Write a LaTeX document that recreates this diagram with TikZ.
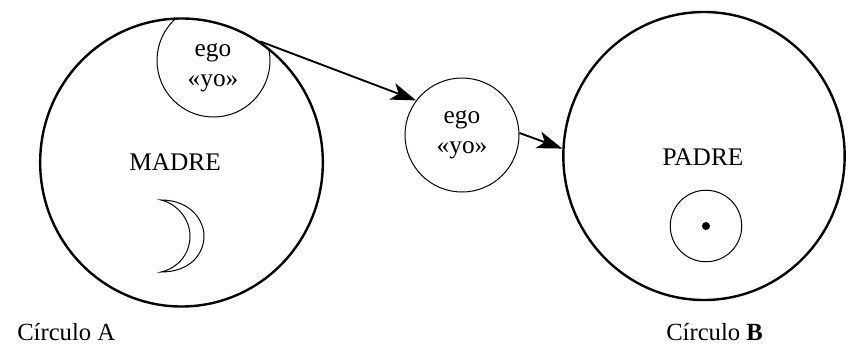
\documentclass[tikz,border=0pt]{standalone}
\usepackage{fontspec}
\setmainfont{Liberation Serif}
\usetikzlibrary{shapes.geometric,arrows.meta}
\tikzset{
  bigcirc/.style={ellipse,draw=black,line width=1.8pt,inner sep=0pt},
  thincirc/.style={circle,draw=black,line width=0.75pt,inner sep=0pt,minimum size=#1*0.75pt},
  lab/.style={font=\fontsize{19pt}{22.5pt}\selectfont,align=center,inner sep=0pt,text=black},
  captext/.style={font=\fontsize{18.5pt}{22pt}\selectfont,inner sep=0pt,anchor=base west,text=black},
  conn/.style={draw=black,line width=1.4pt,-{Stealth[length=19pt,width=13pt,inset=5pt]}}
}
\begin{document}
\begin{tikzpicture}[x=0.75pt,y=-0.75pt]
\useasboundingbox[fill=white] (0,0) rectangle (861,347);
% outer circles
\node[bigcirc,minimum width=212pt,minimum height=216pt] (A) at (181.5,162.5) {};
\node[bigcirc,minimum width=211pt,minimum height=216pt] (B) at (704,156) {};
% ego inside A, clipped by A
\begin{scope}
\clip (181.5,162.5) ellipse [x radius=141.7,y radius=144];
\node[thincirc=113] (egoA) at (213.5,60.5) {};
\end{scope}
\node[lab] (egoAt) at (213,68) {ego\\«yo»};
% free ego
\node[thincirc=114,lab] (egoB) at (462,135) {ego\\«yo»};
% labels
\node[lab] (madre) at (175,162) {MADRE};
\node[lab] (padre) at (703,157) {PADRE};
% crescent
\draw[black,line width=0.75pt] (161,200) .. controls (190,200) and (204,220) .. (204,236) .. controls (204,254) and (190,272) .. (161,272)
  .. controls (178,268) and (190,254) .. (190,236) .. controls (190,220) and (178,204) .. (161,200) -- cycle;
% sun
\node[thincirc=71.5] (sun) at (706,226) {};
\node[circle,fill=black,inner sep=0pt,minimum size=6pt] (dot) at (sun.center) {};
% connectors
\draw[conn] (A.57.6) -- (egoB.143.7);
\draw[conn] (egoB.2) -- (B.177);
% captions
\node[captext] (capA) at (17,340) {Círculo A};
\node[captext] (capB) at (666,340) {Círculo \textbf{B}};
\end{tikzpicture}
\end{document}
